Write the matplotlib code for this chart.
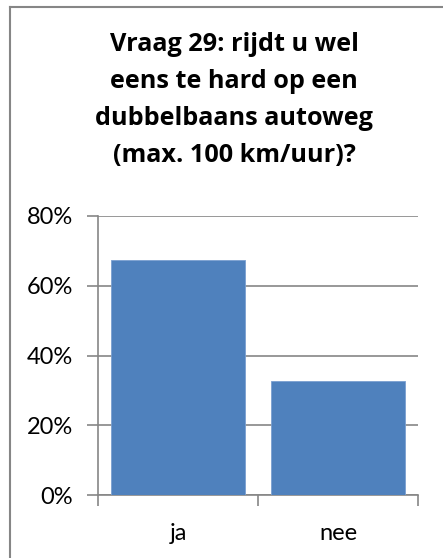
import matplotlib
matplotlib.use("Agg")
import matplotlib.pyplot as plt
from matplotlib.lines import Line2D

categories = ["ja", "nee"]
values = [67.2, 32.8]
yticks = [0, 20, 40, 60, 80]
ytick_labels = ["0%", "20%", "40%", "60%", "80%"]
title = "Vraag 29: rijdt u wel\neens te hard op een\ndubbelbaans autoweg\n(max. 100 km/uur)?"

W, H = 443, 558
fig = plt.figure(figsize=(W / 100, H / 100), dpi=100)
font = ["Lato", "DejaVu Sans"]
tfont = ["Open Sans", "DejaVu Sans"]

# chart border (top and left visible)
fig.add_artist(Line2D([10 / W, 10 / W], [0, 1 - 6.5 / H], transform=fig.transFigure, color="#868686", lw=1.5))
fig.add_artist(Line2D([10 / W, 1], [1 - 6.5 / H, 1 - 6.5 / H], transform=fig.transFigure, color="#868686", lw=1.5))

left, right, top, bottom = 98, 418, 215.7, 495.3
ax = fig.add_axes([left / W, 1 - bottom / H, (right - left) / W, (bottom - top) / H])
x = list(range(len(categories)))
ax.bar(x, values, width=0.84, color="#4F81BD", edgecolor="#7a9fd0", linewidth=0.6, zorder=3)
ax.set_xlim(-0.5, len(categories) - 0.5)
ax.set_ylim(0, 80)
ax.set_yticks(yticks)
ax.set_yticklabels(ytick_labels, fontfamily=font, fontsize=17)
ax.set_xticks(x)
ax.set_xticklabels(categories, fontfamily=font, fontsize=17)
ax.tick_params(axis="x", length=0, pad=20)
ax.set_xticks([-0.5, 0.5, 1.5], minor=True)
ax.tick_params(axis="x", which="minor", length=8, color="#868686", width=1.2)
ax.tick_params(axis="y", length=8, color="#868686", width=1.2, pad=10)
ax.grid(axis="y", color="#868686", lw=1.2, zorder=0)
for s in ["top", "right"]:
    ax.spines[s].set_visible(False)
for s in ["left", "bottom"]:
    ax.spines[s].set_color("#868686")
    ax.spines[s].set_linewidth(1.2)

fig.text(234 / W, 1 - 100 / H, title, ha="center", va="center", fontfamily=tfont,
         fontweight="bold", fontsize=18.2, linespacing=1.62)

fig.savefig("out.png", dpi=100)
